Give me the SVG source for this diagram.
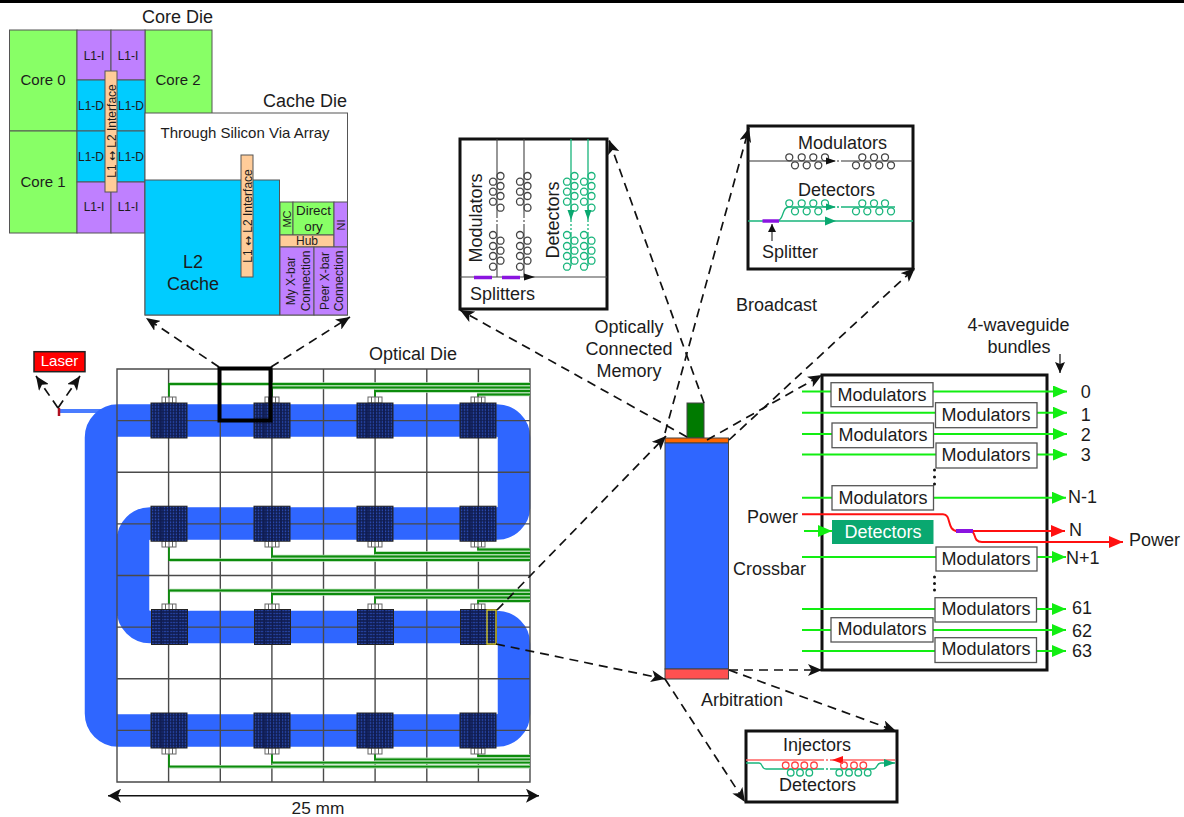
<svg xmlns="http://www.w3.org/2000/svg" width="1184" height="817" viewBox="0 0 1184 817">
<style>
text{font-family:"Liberation Sans",Arial,sans-serif;fill:#1c1c1c;font-size:18px}
.m{text-anchor:middle}
.s15{font-size:15px}.s12{font-size:12px}.s13{font-size:13.4px}.s11{font-size:11px}
.arw{font-family:"DejaVu Sans",sans-serif;font-size:12px}
.f{stroke:#555;stroke-width:1}
.core{fill:#88ff66}.pur{fill:#bf80ff}.cy{fill:#00ccff}.tan{fill:#ffcc99}
.dash{fill:none;stroke:#111;stroke-width:1.7;stroke-dasharray:9 6;marker-end:url(#ah)}
.gl{stroke:#12ee12;stroke-width:2;fill:none;marker-end:url(#ga)}
.mod{fill:#fff;stroke:#555;stroke-width:1.3}
.box{fill:#fff;stroke:#111;stroke-width:3}
.bus{fill:none;stroke:#0c8c0c;stroke-width:1.8}
.halo{fill:none;stroke:#a9d8a9;stroke-width:3.4}
.ring{fill:none;stroke-width:1.3}
.grid{stroke:#4a4a4a;stroke-width:1.4;fill:none}
.gap{stroke:#fff;stroke-width:2;stroke-dasharray:2 2;fill:none}
</style>
<defs>
<marker id="ah" markerUnits="userSpaceOnUse" markerWidth="15" markerHeight="12" refX="14" refY="6" orient="auto"><path d="M0,0L14,6L0,12L3.5,6z" fill="#111"/></marker>
<marker id="ga" markerUnits="userSpaceOnUse" markerWidth="15" markerHeight="12" refX="14" refY="6" orient="auto"><path d="M0,0L14,6L0,12z" fill="#12ee12"/></marker>
<marker id="ra" markerUnits="userSpaceOnUse" markerWidth="15" markerHeight="12" refX="14" refY="6" orient="auto"><path d="M0,0L14,6L0,12z" fill="#ff1010"/></marker>
<marker id="ka" markerUnits="userSpaceOnUse" markerWidth="12" markerHeight="10" refX="11" refY="5" orient="auto"><path d="M0,0L11,5L0,10L2,5z" fill="#111"/></marker>
<marker id="dbl" markerUnits="userSpaceOnUse" markerWidth="14" markerHeight="14" refX="13" refY="7" orient="auto-start-reverse"><path d="M0,0L13,7L0,14L3,7z" fill="#111"/></marker>
<pattern id="dots" width="3" height="3" patternUnits="userSpaceOnUse"><rect width="3" height="3" fill="#111f55"/><circle cx="1.500" cy="1.500" r="0.800" fill="#2f55c8"/></pattern>
<g id="tile">
<rect x="-18" y="-17.500" width="36" height="35" fill="url(#dots)" stroke="#222" stroke-width="1"/>
<path d="M-8-17V17M0-17V17M9-17V17" stroke="#101c50" stroke-width="1.500"/>
</g>
<g id="conn"><rect x="-7" y="-3" width="14" height="6" fill="#fff" stroke="#666" stroke-width="1"/><path d="M-3.500-3V3M0-3V3M3.500-3V3" stroke="#666" stroke-width="1"/></g>
<g id="ringsV" class="ring">
<circle cx="0" cy="181.700" r="3.500"/><circle cx="0" cy="191.700" r="3.500"/><circle cx="0" cy="201.700" r="3.500"/>
<circle cx="7.500" cy="176" r="3.500"/><circle cx="7.500" cy="186" r="3.500"/><circle cx="7.500" cy="196" r="3.500"/><circle cx="7.500" cy="207.700" r="3.500"/>
<circle cx="0" cy="235" r="3.500"/><circle cx="0" cy="246" r="3.500"/><circle cx="0" cy="256" r="3.500"/><circle cx="0" cy="266.700" r="3.500"/>
<circle cx="7.500" cy="240.700" r="3.500"/><circle cx="7.500" cy="250.700" r="3.500"/><circle cx="7.500" cy="260.700" r="3.500"/>
</g>
<g id="ringsH" class="ring">
<circle cx="789.300" cy="0" r="3.500"/><circle cx="801.700" cy="0" r="3.500"/><circle cx="813.300" cy="0" r="3.500"/><circle cx="825" cy="0" r="3.500"/>
<circle cx="795" cy="8" r="3.500"/><circle cx="806.700" cy="8" r="3.500"/><circle cx="818.300" cy="8" r="3.500"/>
<circle cx="862.300" cy="0" r="3.500"/><circle cx="874" cy="0" r="3.500"/><circle cx="885" cy="0" r="3.500"/>
<circle cx="856" cy="8" r="3.500"/><circle cx="867.300" cy="8" r="3.500"/><circle cx="879.300" cy="8" r="3.500"/><circle cx="891" cy="8" r="3.500"/>
</g>
</defs>
<rect width="1184" height="817" fill="#fff"/>
<rect width="1184" height="3" fill="#000"/>

<g id="core-die">
<rect class="core f" x="9.500" y="30" width="67.500" height="101"/>
<rect class="core f" x="9.500" y="131" width="67.500" height="102"/>
<rect class="core f" x="145" y="30" width="67" height="84"/>
<rect class="pur f" x="77" y="30" width="34" height="50"/><rect class="pur f" x="111" y="30" width="34" height="50"/>
<rect class="cy f" x="77" y="80" width="34" height="51"/><rect class="cy f" x="111" y="80" width="34" height="51"/>
<rect class="cy f" x="77" y="131" width="34" height="51"/><rect class="cy f" x="111" y="131" width="34" height="51"/>
<rect class="pur f" x="77" y="182" width="34" height="51"/><rect class="pur f" x="111" y="182" width="34" height="51"/>
<text class="s15 m" x="43" y="85">Core 0</text><text class="s15 m" x="43" y="187">Core 1</text><text class="s15 m" x="178" y="85">Core 2</text>
<text class="s12 m" x="94" y="60">L1-I</text><text class="s12 m" x="128" y="60">L1-I</text>
<text class="s12 m" x="91" y="110">L1-D</text><text class="s12 m" x="131" y="110">L1-D</text>
<text class="s12 m" x="91" y="161">L1-D</text><text class="s12 m" x="131" y="161">L1-D</text>
<text class="s12 m" x="94" y="211">L1-I</text><text class="s12 m" x="128" y="211">L1-I</text>
<rect class="tan f" x="105" y="71" width="12" height="121"/>
<text class="s12 m" transform="translate(115.500,131) rotate(-90)">L1 <tspan class="arw">↔</tspan> L2 Interface</text>
<text x="142" y="23">Core Die</text>
</g>

<g id="cache-die">
<rect x="145" y="113" width="202.500" height="202" fill="#fff" stroke="#555" stroke-width="1"/>
<rect class="cy f" x="145" y="180" width="134.500" height="135"/>
<rect class="core f" x="280" y="202" width="13" height="33"/>
<rect class="core f" x="293" y="202" width="41" height="33"/>
<rect class="tan f" x="280" y="235" width="54" height="12"/>
<rect class="pur f" x="334" y="202" width="13.500" height="45"/>
<rect class="pur f" x="280" y="247" width="34" height="68"/>
<rect class="pur f" x="314" y="247" width="33.500" height="68"/>
<rect class="tan f" x="241" y="155" width="12" height="122"/>
<text class="s12 m" transform="translate(251.500,216) rotate(-90)">L1 <tspan class="arw">↔</tspan> L2 Interface</text>
<text class="s15 m" x="245" y="138">Through Silicon Via Array</text>
<text class="m" x="193" y="268">L2</text><text class="m" x="193" y="290">Cache</text>
<text class="s11 m" transform="translate(291,219) rotate(-90)">MC</text>
<text class="s13 m" x="313.500" y="214.500">Direct</text><text class="s13 m" x="313.500" y="231">ory</text>
<text class="s12 m" x="307" y="245">Hub</text>
<text class="s11 m" transform="translate(344.500,225) rotate(-90)">NI</text>
<text class="s12 m" transform="translate(295,281) rotate(-90)">My X-bar</text>
<text class="s12 m" transform="translate(309.500,281) rotate(-90)">Connection</text>
<text class="s12 m" transform="translate(329,281) rotate(-90)">Peer X-bar</text>
<text class="s12 m" transform="translate(343,281) rotate(-90)">Connection</text>
<text x="263" y="107">Cache Die</text>
</g>

<g id="optical-memory">
<rect class="box" x="460" y="139" width="147" height="170"/>
<path d="M497 139V277M524 139V277M460 277H607" stroke="#444" stroke-width="1.100" fill="none"/>
<path d="M497 218V226M524 218V226" class="gap"/>
<use href="#ringsV" x="493" stroke="#444"/><use href="#ringsV" x="520" stroke="#444"/>
<path d="M571 139V266M588 139V266" stroke="#19b57c" stroke-width="1.300" fill="none"/>
<path d="M571 222V232M588 222V232" class="gap"/>
<use href="#ringsV" x="567" stroke="#19b57c"/><use href="#ringsV" x="584" stroke="#19b57c"/>
<path d="M567.500 210L571 220L574.500 210zM584.500 210L588 220L591.500 210z" fill="#0aa870"/>
<path d="M474 277.500H492M502 277.500H520" stroke="#8a14e0" stroke-width="3.500"/>
<path d="M524 273.500L535 277L524 280.500z" fill="#111"/>
<text class="m" transform="translate(482,218) rotate(-90)">Modulators</text>
<text class="m" transform="translate(559,220) rotate(-90)">Detectors</text>
<text x="470" y="300">Splitters</text>
</g>

<g id="broadcast">
<rect class="box" x="748" y="126" width="165" height="143"/>
<path d="M748 161H913" stroke="#333" stroke-width="1.100"/>
<path d="M835 161H843" class="gap"/>
<use href="#ringsH" y="157.300" stroke="#444"/>
<path d="M826 157.500L836 161L826 164.500z" fill="#111"/>
<path d="M748 221H913M779 220C784 218 782 207 789 207H895" stroke="#19b57c" stroke-width="1.300" fill="none"/>
<path d="M835 207H843" class="gap"/>
<use href="#ringsH" y="203.300" stroke="#19b57c"/>
<path d="M826 203.500L836 207L826 210.500zM825 216.500L836 221L825 225.500z" fill="#0aa870"/>
<path d="M762.500 221H779" stroke="#8a14e0" stroke-width="3.500"/>
<path d="M772 241V224" stroke="#333" stroke-width="1.200"/><path d="M768 232L772 224L776 232z" fill="#111"/>
<text x="798" y="149">Modulators</text><text x="798" y="196">Detectors</text><text x="762" y="258">Splitter</text>
</g>

<g id="arbitration-detail">
<rect class="box" x="746" y="731" width="151" height="71"/>
<path d="M746 760H895" stroke="#ff6060" stroke-width="1.300"/>
<path d="M746 763H759C763 763 761 769 766 769H873C878 769 876 763 881 763H895" stroke="#19b57c" stroke-width="1.300" fill="none"/>
<path d="M824 760H831M824 769H831" class="gap"/>
<path d="M843 756L832 760L843 764z" fill="#ff1010"/>
<path d="M884 759L895 763L884 767z" fill="#0aa870"/>
<g class="ring" stroke="#ff4040"><circle cx="785.700" cy="765.300" r="3.300"/><circle cx="795" cy="765.300" r="3.300"/><circle cx="804.300" cy="765.300" r="3.300"/><circle cx="814" cy="765.300" r="3.300"/><circle cx="844" cy="765.300" r="3.300"/><circle cx="854" cy="765.300" r="3.300"/><circle cx="863.300" cy="765.300" r="3.300"/></g>
<g class="ring" stroke="#19b57c"><circle cx="790.700" cy="772.700" r="3.300"/><circle cx="800" cy="772.700" r="3.300"/><circle cx="809.300" cy="772.700" r="3.300"/><circle cx="839.300" cy="772.700" r="3.300"/><circle cx="849" cy="772.700" r="3.300"/><circle cx="858.300" cy="772.700" r="3.300"/><circle cx="867.700" cy="772.700" r="3.300"/></g>
<text x="783" y="751">Injectors</text><text x="779" y="791">Detectors</text>
</g>

<g id="optical-die">
<path d="M60 411H125" stroke="#4a7cff" stroke-width="4" fill="none"/>
<path d="M118 420.500H497A17 17 0 0 1 514 437.500V506.500A17 17 0 0 1 497 523.500H150A17 17 0 0 0 133 540.500V610A17 17 0 0 0 150 627H497A17 17 0 0 1 514 644V713.500A17 17 0 0 1 497 730.500H118A17 17 0 0 1 101 713.500V437.500A17 17 0 0 1 118 420.500Z" fill="none" stroke="#2f66ff" stroke-width="32.500"/>
<path class="grid" d="M117 369H530V782H117ZM168.600 369V782M220.300 369V782M271.900 369V782M323.500 369V782M375.100 369V782M426.800 369V782M478.400 369V782M117 420.600H530M117 472.300H530M117 523.900H530M117 575.500H530M117 627.100H530M117 678.800H530M117 730.400H530"/>
<g id="buses">
<path class="halo" d="M272 387.500H530M375 391H530M478 394.500H530M169 384H530M272 556.500H530M375 553H530M478 549.500H530M169 560H530M272 594H530M375 597.500H530M478 601H530M169 590.500H530M272 762.700H530M375 759.300H530M478 756H530M169 766.700H530"/>
<path class="bus" d="M169 398V384H530M272 398V387.500H530M375 398V391H530M478 398V394.500H530"/>
<path class="bus" d="M169 546V560H530M272 546V556.500H530M375 546V553H530M478 546V549.500H530"/>
<path class="bus" d="M169 605V590.500H530M272 605V594H530M375 605V597.500H530M478 605V601H530"/>
<path class="bus" d="M169 752V766.700H530M272 752V762.700H530M375 752V759.300H530M478 752V756H530"/>
</g>
<g id="tiles">
<use href="#conn" x="169" y="400"/><use href="#conn" x="272" y="400"/><use href="#conn" x="375" y="400"/><use href="#conn" x="478" y="400"/>
<use href="#conn" x="169" y="544"/><use href="#conn" x="272" y="544"/><use href="#conn" x="375" y="544"/><use href="#conn" x="478" y="544"/>
<use href="#conn" x="169" y="607"/><use href="#conn" x="272" y="607"/><use href="#conn" x="375" y="607"/><use href="#conn" x="478" y="607"/>
<use href="#conn" x="169" y="751"/><use href="#conn" x="272" y="751"/><use href="#conn" x="375" y="751"/><use href="#conn" x="478" y="751"/>
<use href="#tile" x="169" y="420.500"/><use href="#tile" x="272" y="420.500"/><use href="#tile" x="375" y="420.500"/><use href="#tile" x="478" y="420.500"/>
<use href="#tile" x="169" y="523.700"/><use href="#tile" x="272" y="523.700"/><use href="#tile" x="375" y="523.700"/><use href="#tile" x="478" y="523.700"/>
<use href="#tile" x="169.500" y="627"/><use href="#tile" x="272.500" y="627"/><use href="#tile" x="375.500" y="627"/><use href="#tile" x="478.500" y="627"/>
<use href="#tile" x="169" y="730.500"/><use href="#tile" x="272" y="730.500"/><use href="#tile" x="375" y="730.500"/><use href="#tile" x="478" y="730.500"/>
</g>
<rect x="487" y="610" width="9" height="34" fill="url(#dots)" stroke="#e0d020" stroke-width="1.300"/>
<rect x="219.500" y="368.500" width="51" height="52" fill="none" stroke="#000" stroke-width="4"/>
<text x="369" y="360">Optical Die</text>
<path d="M108 795.700H539" stroke="#111" stroke-width="1.500" marker-start="url(#dbl)" marker-end="url(#dbl)"/>
<text class="m" x="318" y="814" style="font-size:17.300px">25 mm</text>
</g>

<g id="laser">
<rect x="34" y="351.700" width="51" height="20" fill="#ff0000" stroke="#222" stroke-width="1.500"/>
<text class="s15 m" x="59.500" y="366" style="fill:#fff">Laser</text>
<path d="M59 408V416" stroke="#b01020" stroke-width="2.500"/>
</g>

<g id="column">
<rect x="687" y="403" width="17" height="35" fill="#007a00" stroke="#444" stroke-width="1"/>
<rect x="665" y="438" width="63.500" height="5" fill="#ff6600" stroke="#444" stroke-width="1"/>
<rect x="665" y="443" width="63.500" height="226" fill="#2f66ff" stroke="#444" stroke-width="1"/>
<rect x="665" y="669" width="63.500" height="10" fill="#ff5050" stroke="#444" stroke-width="1"/>
</g>

<g id="crossbar">
<rect class="box" x="822" y="375" width="225" height="295"/>
<g id="wires">
<path class="gl" d="M802 391.500H1067"/><path class="gl" d="M802 412.700H1067"/><path class="gl" d="M802 434H1067"/><path class="gl" d="M802 454.500H1067"/>
<path class="gl" d="M802 497.700H1066"/><path class="gl" d="M804 531H832"/><path class="gl" d="M802 557H1066"/>
<path class="gl" d="M802 609H1066"/><path class="gl" d="M802 630H1066"/><path class="gl" d="M802 651H1066"/>
<path d="M802 514.300H943C952 514.300 946 531 958 531H1065" fill="none" stroke="#ff1010" stroke-width="2" marker-end="url(#ra)"/>
<path d="M970 531C977 531 972 542 982 542H1123" fill="none" stroke="#ff1010" stroke-width="2" marker-end="url(#ra)"/>
<path d="M956 531H973" stroke="#8a14e0" stroke-width="4"/>
</g>
<g id="mods">
<rect class="mod" x="831" y="382.700" width="102" height="24"/><rect class="mod" x="935.500" y="402.700" width="101.500" height="25"/>
<rect class="mod" x="832" y="423" width="101.500" height="24.700"/><rect class="mod" x="936" y="443" width="101" height="25"/>
<rect class="mod" x="832" y="485.700" width="101.500" height="24.300"/>
<rect class="mod" x="936" y="547" width="101" height="24"/>
<rect class="mod" x="935" y="597.700" width="101.500" height="24.300"/><rect class="mod" x="831" y="617.700" width="102" height="24.300"/><rect class="mod" x="935" y="637.700" width="101.500" height="24.800"/>
<rect x="832" y="520" width="101.500" height="24" fill="#0aa870"/>
</g>
<text class="m" x="882" y="400.500">Modulators</text><text class="m" x="986" y="420.500">Modulators</text><text class="m" x="883" y="440.500">Modulators</text><text class="m" x="986" y="461">Modulators</text><text class="m" x="883" y="503.500">Modulators</text>
<text class="m" x="883" y="537.500" style="fill:#fff">Detectors</text>
<text class="m" x="986" y="564.500">Modulators</text><text class="m" x="986" y="615">Modulators</text><text class="m" x="882" y="635">Modulators</text><text class="m" x="986" y="655">Modulators</text>
<g fill="#111"><circle cx="934.500" cy="470" r="1.500"/><circle cx="934.500" cy="477" r="1.500"/><circle cx="934.500" cy="484" r="1.500"/><circle cx="934.500" cy="577" r="1.500"/><circle cx="934.500" cy="583.500" r="1.500"/><circle cx="934.500" cy="590" r="1.500"/></g>
<text class="m" x="1085.700" y="398">0</text><text class="m" x="1085.700" y="421">1</text><text class="m" x="1085.700" y="441">2</text><text class="m" x="1085.700" y="461">3</text>
<text x="1068" y="503">N-1</text><text x="1069" y="536">N</text><text x="1066" y="564">N+1</text>
<text x="1072" y="614">61</text><text x="1072" y="637">62</text><text x="1072" y="657">63</text>
<text x="1129" y="546">Power</text><text x="747" y="523">Power</text><text x="733" y="575">Crossbar</text>
<text class="m" x="1018.500" y="331">4-waveguide</text><text class="m" x="1019" y="353">bundles</text>
<path d="M1060 354V373" stroke="#222" stroke-width="1.300" marker-end="url(#ka)"/>
</g>

<g id="labels">
<text x="736" y="311">Broadcast</text>
<text class="m" x="629" y="333">Optically</text><text class="m" x="629" y="355">Connected</text><text class="m" x="629" y="377">Memory</text>
<text x="701" y="706">Arbitration</text>
</g>

<g id="connectors">
<path class="dash" d="M219 367L146 318"/><path class="dash" d="M271 367L350 317"/>
<path class="dash" d="M58 408L36 376"/><path class="dash" d="M58 408L80 376"/>
<path class="dash" d="M497 610L666 436"/><path class="dash" d="M496 644L665 679"/>
<path class="dash" d="M665 433L749 128"/><path class="dash" d="M704 403L609 140"/><path class="dash" d="M687 437L460 310"/>
<path class="dash" d="M707 440L822 375"/><path class="dash" d="M729 440L915 268"/>
<path class="dash" d="M729 670H822"/><path class="dash" d="M729 670L896 731"/><path class="dash" d="M665 679L745 802"/>
</g>
</svg>
